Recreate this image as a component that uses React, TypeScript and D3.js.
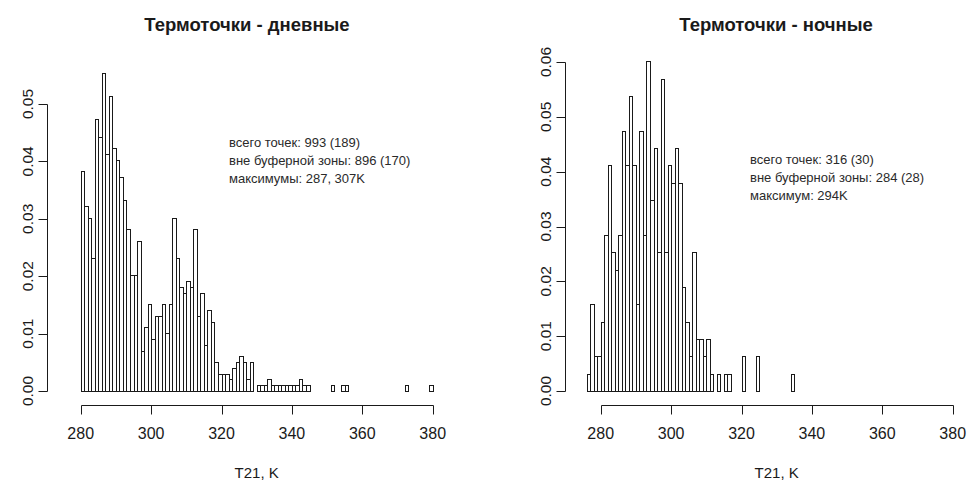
import React from "react";
import * as d3 from "d3";

// Histogram bins: 1 K wide, starting at 274 K
const binStart = 274;
const binEnd = 380;

// Day hotspots: counts per 1 K bin (274..379)
const dayCounts = [
  0, 0, 0, 0, 0, 0,
  38, 32, 30, 23, 47, 44, 55, 41, 51, 42,
  40, 37, 33, 28, 20, 20, 26, 7, 11, 15,
  9, 13, 13, 15, 10, 15, 30, 23, 18, 17,
  19, 18, 28, 13, 17, 8, 14, 12, 5, 3,
  3, 3, 2, 4, 5, 6, 5, 2, 5, 0,
  1, 1, 1, 2, 1, 1, 1, 1, 1, 1,
  1, 1, 2, 1, 1, 0, 0, 0, 0, 0,
  0, 1, 0, 0, 1, 1, 0, 0, 0, 0,
  0, 0, 0, 0, 0, 0, 0, 0, 0, 0,
  0, 0, 1, 0, 0, 0, 0, 0, 0, 1,
];
const dayTotal = 993;

// Night hotspots: counts per 1 K bin (274..379)
const nightCounts = [
  0, 0,
  1, 5, 2, 2, 4, 9, 13, 8, 7, 9,
  15, 13, 17, 13, 5, 15, 9, 19, 11, 14,
  8, 18, 8, 13, 12, 14, 12, 6, 4, 2,
  8, 3, 3, 2, 3, 1, 0, 1, 0, 1,
  1, 0, 0, 0, 2, 0, 0, 0, 2, 0,
  0, 0, 0, 0, 0, 0, 0, 0, 1, 0,
  0, 0, 0, 0, 0, 0, 0, 0, 0, 0,
  0, 0, 0, 0, 0, 0, 0, 0, 0, 0,
  0, 0, 0, 0, 0, 0, 0, 0, 0, 0,
  0, 0, 0, 0, 0, 0, 0, 0, 0, 0,
  0, 0, 0, 0,
];
const nightTotal = 316;

const xTicks = [280, 300, 320, 340, 360, 380];
const dayYTicks = [0, 0.01, 0.02, 0.03, 0.04, 0.05];
const nightYTicks = [0, 0.01, 0.02, 0.03, 0.04, 0.05, 0.06];

const dayTitle = "Термоточки - дневные";
const nightTitle = "Термоточки - ночные";
const xLabel = "T21, K";
const dayNotes = ["всего точек: 993 (189)", "вне буферной зоны: 896 (170)", "максимумы: 287, 307K"];
const nightNotes = ["всего точек: 316 (30)", "вне буферной зоны: 284 (28)", "максимум: 294K"];

const FONT = "'Liberation Sans', Arial, sans-serif";
const INK = "#1a1a1a";

type PanelProps = {
  counts: number[];
  total: number;
  x0: number;
  yTop: number;
  yMax: number;
  yTicks: number[];
  axisX: number;
  title: string;
  titleX: number;
  notes: string[];
  notesX: number;
  notesY: number;
};

function Panel(p: PanelProps) {
  const x = d3.scaleLinear().domain([280, 380]).range([p.x0, p.x0 + 352]);
  const y = d3.scaleLinear().domain([0, p.yMax]).range([391, p.yTop]);
  const bins = d3.range(binStart, binEnd).map((b, i) => ({
    b,
    d: p.counts[i] / p.total,
  }));
  const axisX = p.axisX;
  const xAxisY = 405.5;
  return (
    <g>
      <text x={p.titleX} y={31} textAnchor="middle" fontFamily={FONT} fontWeight="bold" fontSize={18.5} fill={INK}>
        {p.title}
      </text>
      {bins.map((bn) => {
        const xa = Math.round(x(bn.b)) + 0.5;
        const xb = Math.round(x(bn.b + 1)) + 0.5;
        const yt = Math.round(y(bn.d)) + 0.5;
        const yb = Math.round(y(0)) + 0.5;
        return (
          <rect
            key={bn.b}
            x={xa}
            y={yt}
            width={xb - xa}
            height={yb - yt}
            fill="white"
            stroke={INK}
            strokeWidth={1}
          />
        );
      })}
      {/* x axis */}
      <line x1={Math.round(x(280)) + 0.5} x2={Math.round(x(380)) + 0.5} y1={xAxisY} y2={xAxisY} stroke={INK} />
      {xTicks.map((t) => (
        <g key={t}>
          <line x1={Math.round(x(t)) + 0.5} x2={Math.round(x(t)) + 0.5} y1={xAxisY} y2={xAxisY + 9} stroke={INK} />
          <text x={x(t)} y={439} textAnchor="middle" fontFamily={FONT} fontSize={16} fill={INK}>
            {t}
          </text>
        </g>
      ))}
      <text x={x(330)} y={478} textAnchor="middle" fontFamily={FONT} fontSize={15} fill={INK}>
        {xLabel}
      </text>
      {/* y axis */}
      <line
        x1={axisX}
        x2={axisX}
        y1={Math.round(y(0)) + 0.5}
        y2={Math.round(y(p.yTicks[p.yTicks.length - 1])) + 0.5}
        stroke={INK}
      />
      {p.yTicks.map((t) => (
        <g key={t}>
          <line x1={axisX - 9} x2={axisX} y1={Math.round(y(t)) + 0.5} y2={Math.round(y(t)) + 0.5} stroke={INK} />
          <text
            transform={`translate(${axisX - 15},${y(t)}) rotate(-90)`}
            textAnchor="middle"
            fontFamily={FONT}
            fontSize={15.5}
            fill={INK}
          >
            {t.toFixed(2)}
          </text>
        </g>
      ))}
      {p.notes.map((n, i) => (
        <text key={i} x={p.notesX} y={p.notesY + i * 18} fontFamily={FONT} fontSize={13} fill="#2a2a2a">
          {n}
        </text>
      ))}
    </g>
  );
}

export default function App() {
  return (
    <svg width={969} height={482} style={{ position: "absolute", left: 0, top: 0, background: "white" }}>
      <rect width={969} height={482} fill="white" />
      <Panel
        counts={dayCounts}
        total={dayTotal}
        x0={80.7}
        yTop={104}
        yMax={0.05}
        yTicks={dayYTicks}
        axisX={47.5}
        title={dayTitle}
        titleX={247}
        notes={dayNotes}
        notesX={229}
        notesY={147}
      />
      <Panel
        counts={nightCounts}
        total={nightTotal}
        x0={600.7}
        yTop={62}
        yMax={0.06}
        yTicks={nightYTicks}
        axisX={565.5}
        title={nightTitle}
        titleX={776}
        notes={nightNotes}
        notesX={750}
        notesY={164}
      />
    </svg>
  );
}
